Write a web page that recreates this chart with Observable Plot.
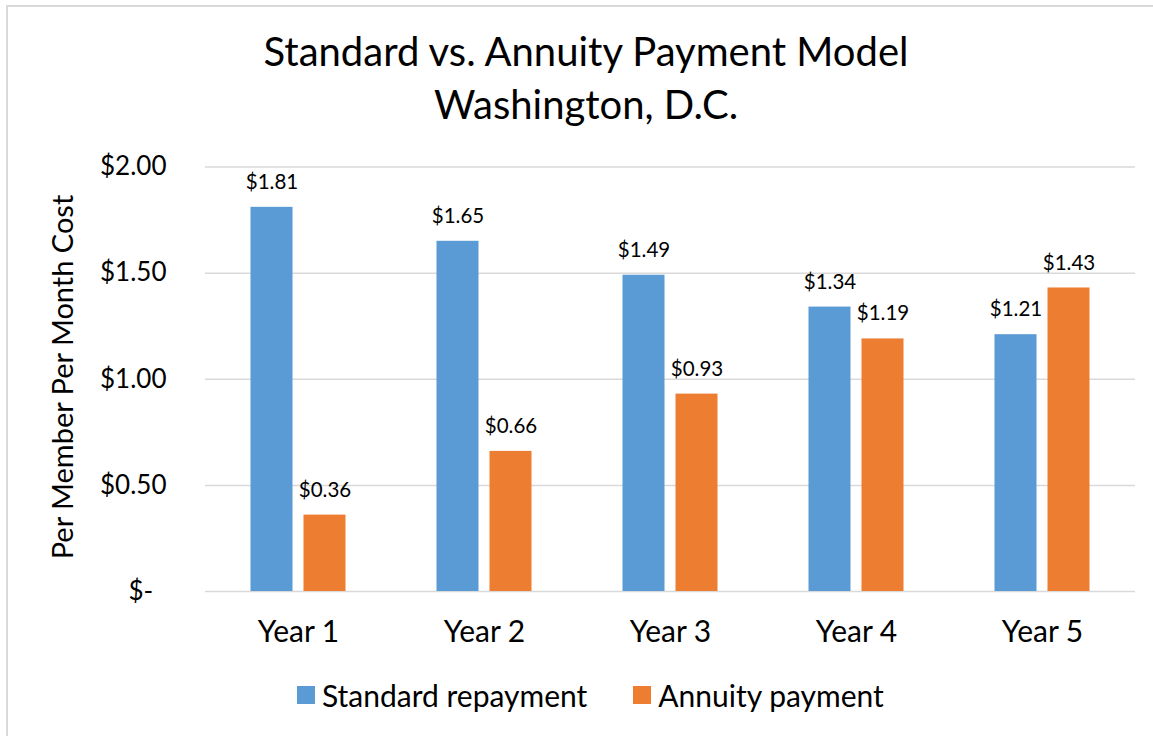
<!DOCTYPE html>
<html>
<head>
<meta charset="utf-8">
<script src="https://cdn.jsdelivr.net/npm/d3@7"></script>
<script src="https://cdn.jsdelivr.net/npm/@observablehq/plot@0.6"></script>
<style>
  html, body { margin: 0; padding: 0; background: #fff; }
  body { width: 1153px; height: 736px; position: relative; overflow: hidden; font-family: Lato, "Open Sans", sans-serif; color: #000; }
  #frame { position: absolute; left: 6px; top: 5px; width: 1200px; height: 800px; border-left: 2px solid #d9d9d9; border-top: 2px solid #d9d9d9; }
  #title { position: absolute; left: 0; top: 25px; width: 1172px; text-align: center; font-size: 40px; line-height: 53px; }
  #chart { position: absolute; left: 0; top: 140px; }
  #ylabel { position: absolute; left: 62px; top: 377px; transform: translate(-50%, -50%) rotate(-90deg); white-space: nowrap; font-size: 29px; line-height: 32px; }
  #legend { position: absolute; left: 297px; top: 680px; display: flex; align-items: center; font-size: 30px; line-height: 30px; }
  .sw { display: inline-block; width: 18px; height: 18px; margin-right: 7px; }
  .item { display: flex; align-items: center; margin-right: 46px; }
</style>
</head>
<body>
<div id="frame"></div>
<div id="title">Standard vs. Annuity Payment Model<br>Washington, D.C.</div>
<div id="chart"></div>
<div id="ylabel"></div>
<div id="legend"></div>
<script>
const years = ["Year 1", "Year 2", "Year 3", "Year 4", "Year 5"];
const seriesNames = ["Standard repayment", "Annuity payment"];
const seriesColors = ["#5B9BD5", "#ED7D31"];
const standard = [1.81, 1.65, 1.49, 1.34, 1.21];
const annuity = [0.36, 0.66, 0.93, 1.19, 1.43];
const yTicks = [0, 0.5, 1, 1.5, 2];
const yTitle = "Per Member Per Month Cost";

const rows = [];
years.forEach((y, i) => {
  rows.push({year: y, series: seriesNames[0], value: standard[i]});
  rows.push({year: y, series: seriesNames[1], value: annuity[i]});
});
const offset = 26.5;
const std = rows.filter(d => d.series === seriesNames[0]);
const ann = rows.filter(d => d.series === seriesNames[1]);
const money = d3.format("$.2f");

const chart = Plot.plot({
  width: 1153,
  height: 520,
  marginLeft: 205,
  marginRight: 18,
  marginTop: 26.5,
  marginBottom: 69,
  style: {fontFamily: "Lato, 'Open Sans', sans-serif", fontSize: "26px", color: "#000", background: "transparent"},
  x: {domain: years, paddingInner: 0.774, paddingOuter: 0.387, tickSize: 0, tickPadding: 29, label: null},
  y: {domain: [0, 2], ticks: yTicks, tickSize: 0, tickPadding: 39,
      tickFormat: d => d === 0 ? "$-\u00a0\u00a0" : money(d), label: null},
  color: {domain: seriesNames, range: seriesColors},
  marks: [
    Plot.ruleY(yTicks, {stroke: "#d9d9d9", strokeWidth: 1.5}),
    Plot.barY(std, {x: "year", y: "value", fill: "series", dx: -offset}),
    Plot.barY(ann, {x: "year", y: "value", fill: "series", dx: offset}),
    Plot.text(std, {x: "year", y: "value", text: d => money(d.value), dx: -offset, dy: -25, fontSize: 20.5, fill: "#000"}),
    Plot.text(ann, {x: "year", y: "value", text: d => money(d.value), dx: offset, dy: -25, fontSize: 20.5, fill: "#000"})
  ]
});
chart.querySelectorAll("g[aria-label='x-axis tick label'] text, g[aria-label='x-axis'] text").forEach(t => t.style.fontSize = "30px");
document.getElementById("chart").appendChild(chart);
document.getElementById("ylabel").textContent = yTitle;

const legend = document.getElementById("legend");
seriesNames.forEach((s, i) => {
  const it = document.createElement("div");
  it.className = "item";
  const sw = document.createElement("span");
  sw.className = "sw";
  sw.style.background = seriesColors[i];
  it.appendChild(sw);
  it.appendChild(document.createTextNode(s));
  legend.appendChild(it);
});
</script>
</body>
</html>
